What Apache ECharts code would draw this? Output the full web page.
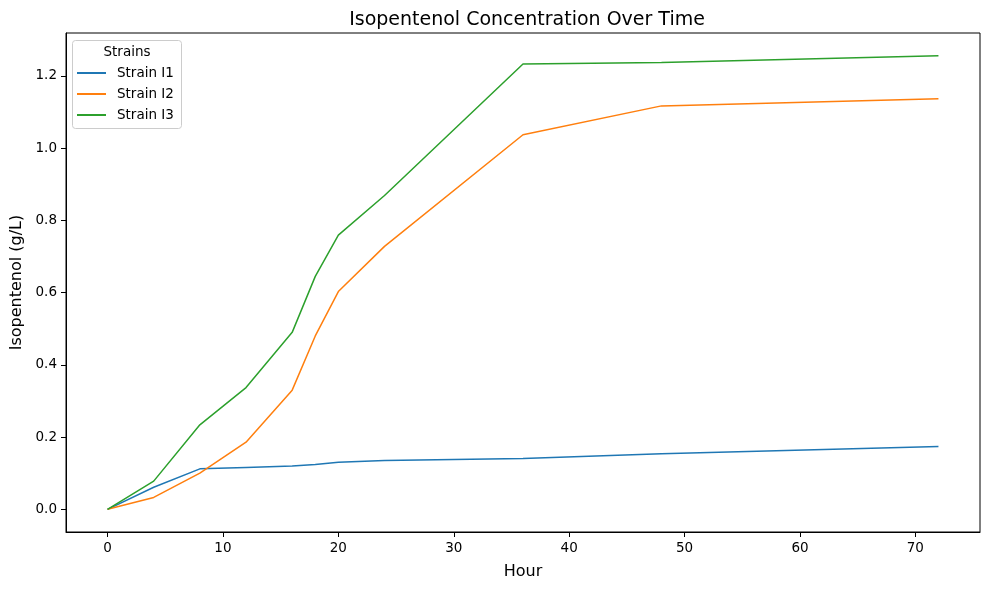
<!DOCTYPE html>
<html><head><meta charset="utf-8">
<script src="https://cdn.jsdelivr.net/npm/echarts@6/dist/echarts.min.js"></script>
<style>html,body{margin:0;padding:0;background:#fff}#c{width:989px;height:590px}</style>
</head><body><div id="c"></div>
<script>
const hours = [0, 4, 8, 12, 16, 18, 20, 24, 36, 48, 72];
const strainI1 = [0, 0.061, 0.112, 0.116, 0.120, 0.124, 0.130, 0.135, 0.141, 0.154, 0.174];
const strainI2 = [0, 0.033, 0.100, 0.186, 0.330, 0.480, 0.603, 0.728, 1.037, 1.117, 1.137];
const strainI3 = [0, 0.078, 0.234, 0.337, 0.490, 0.645, 0.759, 0.869, 1.233, 1.237, 1.256];
const seriesNames = ['Strain I1', 'Strain I2', 'Strain I3'];
const colors = ['#1f77b4', '#ff7f0e', '#2ca02c'];
const xTicks = [0, 10, 20, 30, 40, 50, 60, 70];
const yTicks = [0, 0.2, 0.4, 0.6, 0.8, 1.0, 1.2];

const font = 'DejaVu Sans';
const chart = echarts.init(document.getElementById('c'), null, {renderer: 'canvas'});
const seriesData = [strainI1, strainI2, strainI3];
chart.setOption({
  animation: false,
  title: {text: 'Isopentenol Concentration Over Time', left: 522, top: 6, textAlign: 'center',
    textStyle: {fontFamily: font, fontSize: 19, fontWeight: 'normal', color: '#000'}},
  grid: {left: 66, right: 9, top: 33, bottom: 58, show: true, borderColor: '#000', borderWidth: 1,
    containLabel: false, outerBoundsMode: 'none'},
  legend: {orient: 'vertical', left: 77, top: 66, itemWidth: 29, itemHeight: 2, itemGap: 7,
    icon: 'rect', data: seriesNames, padding: 0,
    textStyle: {fontFamily: font, fontSize: 13.5, color: '#000', lineHeight: 14, padding: [0,0,0,6]}},
  graphic: [
    {type: 'rect', shape: {x: 72.5, y: 40.5, width: 109, height: 88, r: 3},
     style: {fill: 'rgba(255,255,255,0.8)', stroke: '#cccccc', lineWidth: 1}, z: -1},
    {type: 'text', x: 127, y: 52, style: {text: 'Strains', fontFamily: font, fontSize: 13.5, fill: '#000',
     align: 'center', verticalAlign: 'middle'}}
  ],
  xAxis: {type: 'value', min: -3.6, max: 75.6, name: 'Hour', nameLocation: 'middle', nameGap: 32,
    nameTextStyle: {fontFamily: font, fontSize: 16, color: '#000'},
    splitLine: {show: false},
    axisLine: {show: true, onZero: false, lineStyle: {color: '#000', width: 1}},
    axisTick: {show: true, length: 5, lineStyle: {color: '#000'}, customValues: xTicks},
    axisLabel: {fontFamily: font, fontSize: 13.5, color: '#000', margin: 9, customValues: xTicks,
      formatter: v => String(v)}},
  yAxis: {type: 'value', min: -0.0628, max: 1.3188, name: 'Isopentenol (g/L)', nameLocation: 'middle', nameGap: 39,
    nameTextStyle: {fontFamily: font, fontSize: 16, color: '#000'},
    splitLine: {show: false},
    axisLine: {show: true, onZero: false, lineStyle: {color: '#000', width: 1}},
    axisTick: {show: true, length: 5, lineStyle: {color: '#000'}, customValues: yTicks},
    axisLabel: {fontFamily: font, fontSize: 13.5, color: '#000', margin: 9, customValues: yTicks,
      formatter: v => v.toFixed(1)}},
  series: seriesNames.map((n, i) => ({
    name: n, type: 'line', showSymbol: false, symbol: 'none',
    data: hours.map((h, j) => [h, seriesData[i][j]]),
    lineStyle: {color: colors[i], width: 1.5}, itemStyle: {color: colors[i]}
  }))
});
</script></body></html>
